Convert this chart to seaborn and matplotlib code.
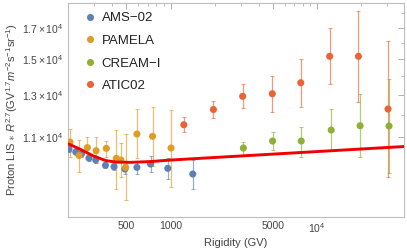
import numpy as np
import pandas as pd
import matplotlib
matplotlib.use("Agg")
import matplotlib.pyplot as plt
import matplotlib.ticker as mticker
import seaborn as sns

# ---------------- data ----------------
ams_r = [203, 226, 247, 278, 309, 360, 412, 489, 590, 731, 958, 1418]
ams_v = [10474, 10362, 10280, 10117, 10037, 9827, 9773, 9683, 9749, 9878, 9711, 9493]
ams_lo = [10350, 10240, 10160, 9995, 9915, 9710, 9640, 9490, 9493, 9569, 9305, 8942]
ams_hi = [10600, 10485, 10400, 10240, 10160, 9945, 9910, 9880, 9969, 10198, 10117, 10037]

pam_r = [206.5, 238, 271, 311, 365, 427, 459, 494, 590, 754, 1008]
pam_v = [10783, 10219, 10549, 10416, 10516, 10105, 10037, 9749, 11132, 11031, 10528]
pam_lo = [10158, 9569, 10077, 9918, 10158, 8942, 9380, 8558, 10117, 9800, 9013]
pam_hi = [11356, 10869, 11000, 11000, 10826, 11311, 10740, 11132, 12298, 12397, 12249]

cre_r = [3138, 4965, 7785, 12452, 19613, 30889]
cre_v = [10528, 10826, 10826, 11311, 11507, 11493]
cre_lo = [10239, 10445, 10158, 10404, 10158, 9530]
cre_hi = [10783, 11221, 11447, 12298, 13056, 13860]

atic_r = [1232, 1961, 3103, 4942, 7725, 12162, 19099, 30409]
atic_v = [11552, 12273, 12937, 13071, 13657, 15171, 15171, 12298]
atic_lo = [11221, 11865, 12348, 12152, 12397, 13587, 12661, 9380]
atic_hi = [11912, 12696, 13587, 14026, 15009, 16983, 18194, 16145]

lis_r = [202.4, 244.2, 299.4, 361.3, 422.6, 534.6, 731, 1000, 39070]
lis_v = [10697, 10466, 10198, 10017, 9957, 9945, 9977, 10037, 10592]

names = ["AMS\u221202", "PAMELA", "CREAM\u2212I", "ATIC02"]
colors = ["#5E81B5", "#E19C24", "#8FB032", "#EB6235"]

xticks_major = [500, 1000, 5000, 10000]
xtick_labels = ["500", "1000", "5000", r"$10^{4}$"]
xticks_minor = [200, 300, 400, 600, 700, 800, 900, 2000, 3000, 4000,
                6000, 7000, 8000, 9000, 20000, 30000]
yticks_major = [11000, 13000, 15000, 17000]
ytick_labels = [r"$1.1\times10^{4}$", r"$1.3\times10^{4}$",
                r"$1.5\times10^{4}$", r"$1.7\times10^{4}$"]
yticks_minor = [12000, 14000, 16000, 18000]

# ---------------- styling ----------------
sns.set_theme(style="white")
plt.rcParams["font.family"] = ["Liberation Sans", "DejaVu Sans"]
plt.rcParams.update({
    "mathtext.fontset": "custom",
    "mathtext.rm": "Liberation Sans",
    "mathtext.it": "Liberation Sans:italic",
    "mathtext.bf": "Liberation Sans:bold",
})

sets = [(ams_r, ams_v, ams_lo, ams_hi), (pam_r, pam_v, pam_lo, pam_hi),
        (cre_r, cre_v, cre_lo, cre_hi), (atic_r, atic_v, atic_lo, atic_hi)]

frames = []
for name, (r, v, lo, hi) in zip(names, sets):
    frames.append(pd.DataFrame({"R": r, "V": v, "lo": lo, "hi": hi, "set": name}))
df = pd.concat(frames, ignore_index=True)
lis = pd.DataFrame({"R": lis_r, "V": lis_v})

fig = plt.figure(figsize=(4.07, 2.52), dpi=100)
ax = fig.add_axes([68 / 407, 35 / 252, 336 / 407, 214 / 252])
ax.set_xscale("log")
ax.set_yscale("log")

# error bars
for name, col in zip(names, colors):
    d = df[df["set"] == name]
    ax.errorbar(d["R"], d["V"],
                yerr=[d["V"] - d["lo"], d["hi"] - d["V"]],
                fmt="none", ecolor=col, elinewidth=0.9, capsize=1.5,
                capthick=0.7, alpha=0.65, zorder=2)

sns.scatterplot(data=df, x="R", y="V", hue="set", palette=colors,
                hue_order=names, s=26, edgecolor="none", ax=ax, zorder=3)

sns.lineplot(data=lis, x="R", y="V", color="#f20000", linewidth=2.1,
             sort=False, estimator=None, ax=ax, zorder=4, legend=False)

ax.set_xlim(202, 39070)
ax.set_ylim(8000, 18760)

ax.set_xticks(xticks_major)
ax.set_xticklabels(xtick_labels)
ax.set_xticks(xticks_minor, minor=True)
ax.xaxis.set_minor_formatter(mticker.NullFormatter())
ax.set_yticks(yticks_major)
ax.set_yticklabels(ytick_labels)
ax.set_yticks(yticks_minor, minor=True)
ax.yaxis.set_minor_formatter(mticker.NullFormatter())

ax.tick_params(which="both", direction="in", top=True, right=True,
               color="#b0b0b0", labelcolor="#444444", labelsize=7.5, pad=3)
ax.tick_params(which="major", length=4, width=0.7)
ax.tick_params(which="minor", length=2.5, width=0.6)
for sp in ax.spines.values():
    sp.set_color("#bdbdbd")
    sp.set_linewidth(0.8)

ax.set_xlabel("Rigidity (GV)", fontsize=8, color="#444444", labelpad=2)
ax.set_ylabel(r"Proton LIS $\ast$ $R^{2.7}$(GV$^{1.7}$$m^{-2}$s$^{-1}$sr$^{-1}$)",
              fontsize=8, color="#444444", labelpad=2)

leg = ax.legend(loc="upper left", bbox_to_anchor=(0.01, 1.0), frameon=False,
                fontsize=9.5, handletextpad=0.2, labelspacing=0.78,
                borderaxespad=0.3, handlelength=1.4, markerscale=1.0)
for t in leg.get_texts():
    t.set_color("#222222")

fig.savefig("out.png", dpi=100)
